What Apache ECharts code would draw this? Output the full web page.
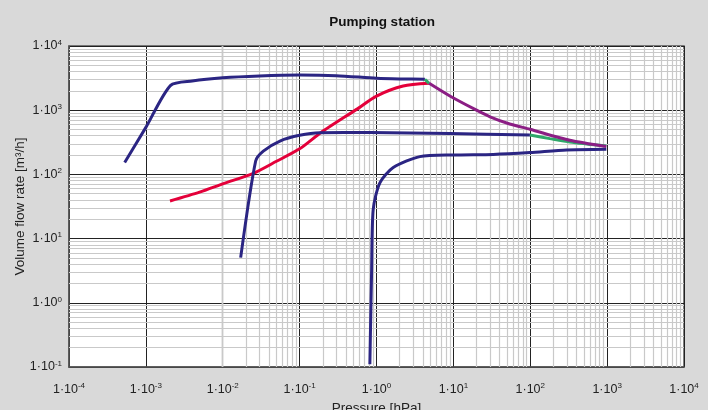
<!DOCTYPE html>
<html>
<head>
<meta charset="utf-8">
<script src="https://cdn.jsdelivr.net/npm/echarts@6/dist/echarts.min.js"></script>
<style>
html,body{margin:0;padding:0;background:#d9d9d9;}
#main{width:708px;height:410px;}
</style>
</head>
<body>
<div id="main"></div>
<script>
// pressure [hPa], volume flow [m3/h]
var bigPump = [[5.3e-4,153],[1e-3,540],[2.1e-3,2440],[4e-3,2850],[0.01,3200],[0.03,3420],[0.1,3530],[0.3,3450],[1,3150],[2,3070],[4.26,3030]];
var bigPumpJoin = [[4.26,3030],[4.84,2620]];
var redPump = [[2.06e-3,38.6],[5e-3,53],[0.0102,72],[0.025,104],[0.05,160],[0.1,250],[0.19,450],[0.55,1030],[1,1660],[2.22,2380],[4.84,2620]];
var purpleTail = [[4.84,2620],[9,1663],[20,1000],[30,790],[54,610],[99,505],[327,340],[977,271]];
var midPump = [[0.0171,5.06],[0.0268,162],[0.0337,231],[0.0555,331],[0.1,406],[0.184,445],[0.82,448],[9,433],[99,411]];
var midPumpTail = [[99,411],[180,361],[327,320],[977,277]];
var smallPump = [[0.82,0.11],[0.863,2.95],[0.906,28.6],[1.106,74],[1.65,128],[3.66,189],[10,201],[33,205],[99,219],[297,240],[977,246]];

var xMin = 1e-4, xMax = 1e4;
var yMin = 1e-1, yMax = 1e4;

//minor grid lines 2..9 in every decade
function minorValues(lo, hi, key){
	var out = [];
	for(var e = Math.round(Math.log10(lo)); e < Math.round(Math.log10(hi)); e++){
		for(var k = 2; k <= 9; k++){
			var o = {};
			o[key] = k * Math.pow(10, e);
			out.push(o);
		}
	}
	return out;
}

var font = 'Liberation Sans';
function supLabel(v){
	var e = Math.round(Math.log10(v));
	return '1·10{s|' + e + '}';
}
var labelRich = { s: { fontSize: 8, fontFamily: font, color: '#222', padding: [0,0,7,0] } };

var myChart = echarts.init(document.getElementById('main'));
function line(data, color, z){
	return {
		type: 'line', data: data, showSymbol: false, symbol: 'none',
		smooth: 0.25, z: z, silent: true,
		lineStyle: { color: color, width: 3 }
	};
}
var option = {
	backgroundColor: '#d9d9d9',
	animation: false,
	title: {
		text: 'Pumping station', left: 377, top: 10, textAlign: 'center',
		textStyle: { fontFamily: font, fontSize: 13.5, fontWeight: 'bold', color: '#111' }
	},
	grid: {
		left: 69, right: 24, top: 46, bottom: 43, outerBoundsMode: 'none', containLabel: false,
		show: true, backgroundColor: '#fff', borderColor: '#555', borderWidth: 1.5
	},
	xAxis: {
		type: 'log', logBase: 10, min: xMin, max: xMax, splitNumber: 8,
		name: 'Pressure [hPa]', nameLocation: 'middle', nameGap: 30,
		nameTextStyle: { fontFamily: font, fontSize: 13.5, color: '#222' },
		axisLine: { lineStyle: { color: '#555', width: 1.5 } },
		axisTick: { show: false },
		axisLabel: { margin: 15, fontFamily: font, fontSize: 12.5, color: '#222', formatter: supLabel, rich: labelRich },
		splitLine: { show: true, lineStyle: { color: '#222', width: 1 } }
	},
	yAxis: {
		type: 'log', logBase: 10, min: yMin, max: yMax, splitNumber: 5,
		name: 'Volume flow rate [m³/h]', nameLocation: 'middle', nameGap: 42, nameMoveOverlap: false,
		nameTextStyle: { fontFamily: font, fontSize: 13.5, color: '#222' },
		axisLine: { lineStyle: { color: '#555', width: 1.5 } },
		axisTick: { show: false },
		axisLabel: { margin: 7, fontFamily: font, fontSize: 12.5, color: '#222', formatter: supLabel, rich: labelRich },
		splitLine: { show: true, lineStyle: { color: '#222', width: 1 } }
	},
	series: [
		{
			type: 'line', data: [], z: 1, silent: true,
			markLine: {
				silent: true, z: 1, symbol: ['none','none'], label: { show: false },
				lineStyle: { color: '#c9c9c9', width: 1.2, type: 'solid' },
				data: minorValues(xMin, xMax, 'xAxis').concat(minorValues(yMin, yMax, 'yAxis'))
			}
		},
		line(redPump, '#e4003a', 3),
		line(bigPump, '#2b2583', 3),
		line(midPump, '#2b2583', 3),
		line(smallPump, '#2b2583', 3),
		line(bigPumpJoin, '#2fa86a', 4),
		line(midPumpTail, '#2fa86a', 4),
		line(purpleTail, '#8b1e84', 5)
	]
};
myChart.setOption(option);
</script>
</body>
</html>
